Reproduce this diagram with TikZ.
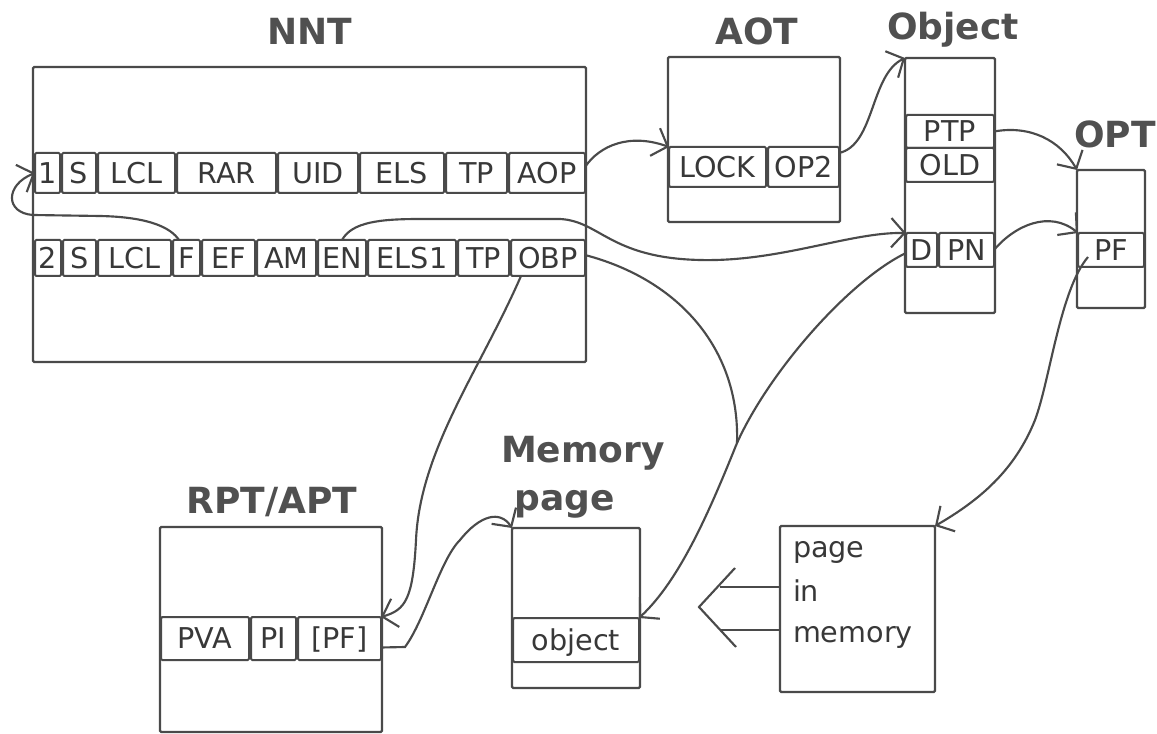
\documentclass[tikz,border=0pt]{standalone}
\usepackage{fontspec}
\setmainfont{DejaVu Sans}
\usetikzlibrary{arrows.meta,calc}
\definecolor{ink}{HTML}{4A4A4A}
\definecolor{txt}{HTML}{383838}
\definecolor{ttlc}{HTML}{505050}

% table frame: name, x1, x2, y1, y2 (pixel units)
\newcommand\tableframe[5]{\node[frame, minimum width={(#3-#2)*0.75pt}, minimum height={(#5-#4)*0.75pt}] (#1) at ({(#2+#3)/2},{(#4+#5)/2}) {};}
% one field of a record: name, x1, x2, y1, y2, text
\newcommand\cellat[6]{\node[cell, minimum width={(#3-#2)*0.75pt-1.5pt}, minimum height={(#5-#4)*0.75pt}] (#1) at ({(#2+#3)/2},{(#4+#5)/2}) {#6};}

\begin{document}
\begin{tikzpicture}[x=0.75pt,y=-0.75pt,
  every node/.style={inner sep=0pt, outer sep=0pt},
  frame/.style={draw=ink, line width=1.7pt, rounded corners=1pt},
  cell/.style={draw=ink, line width=1.5pt, rounded corners=1pt,
    font=\fontsize{21.5}{24}\selectfont, text=txt, text height=15.7pt, text depth=0pt},
  ttl/.style={font=\fontsize{27}{30}\selectfont\bfseries, text=ttlc, anchor=base},
  memtxt/.style={font=\fontsize{21.5}{24}\selectfont, text=txt, anchor=base west},
  link/.style={draw=ink, line width=1.6pt, -{Straight Barb[length=10pt,width=22pt,line width=1.6pt]}},
  plain/.style={draw=ink, line width=1.6pt},
]
\useasboundingbox (0,0) rectangle (1157,734);

% ---------- NNT ----------
\node[ttl] (tNNT) at (310,45) {NNT};
\tableframe{nnt}{33}{586}{67}{362}
\cellat{c11}{34}{61}{153}{193}{1}
\cellat{c1S}{61}{97}{153}{193}{S}
\cellat{c1LCL}{97}{176}{153}{193}{LCL}
\cellat{cRAR}{176}{277}{153}{193}{RAR}
\cellat{cUID}{277}{359}{153}{193}{UID}
\cellat{cELS}{359}{445}{153}{193}{ELS}
\cellat{c1TP}{445}{508}{153}{193}{TP}
\cellat{cAOP}{508}{586}{153}{193}{AOP}

\cellat{c22}{34}{62}{240}{276}{2}
\cellat{c2S}{62}{97}{240}{276}{S}
\cellat{c2LCL}{97}{172}{240}{276}{LCL}
\cellat{c2F}{172}{201}{240}{276}{F}
\cellat{cEF}{201}{256}{240}{276}{EF}
\cellat{cAM}{256}{317}{240}{276}{AM}
\cellat{cEN}{317}{367}{240}{276}{EN}
\cellat{cELS1}{367}{457}{240}{276}{ELS1}
\cellat{c2TP}{457}{510}{240}{276}{TP}
\cellat{cOBP}{510}{586}{240}{276}{OBP}

% ---------- AOT ----------
\node[ttl] (tAOT) at (757,45) {AOT};
\tableframe{aot}{668}{840}{57}{222}
\cellat{cLOCK}{668}{767}{147}{187}{LOCK}
\cellat{cOP2}{767}{840}{147}{187}{OP2}

% ---------- Object ----------
\node[ttl] (tObj) at (953,40) {Object};
\tableframe{obj}{905}{995}{58}{313}
\cellat{cPTP}{905}{995}{115}{148}{PTP}
\cellat{cOLD}{905}{995}{148}{182}{OLD}
\cellat{cD}{905}{938}{233}{267}{D}
\cellat{cPN}{938}{995}{233}{267}{PN}

% ---------- OPT ----------
\node[ttl] (tOPT) at (1115,148) {OPT};
\tableframe{opt}{1077}{1145}{170}{308}
\cellat{cPFo}{1077}{1145}{233}{267}{PF}

% ---------- RPT/APT ----------
\node[ttl] (tRPT) at (272,513) {RPT/APT};
\tableframe{rpt}{160}{382}{527}{732}
\cellat{cPVA}{160}{250}{617}{660}{PVA}
\cellat{cPI}{250}{297}{617}{660}{PI}
\cellat{cPFr}{297}{382}{617}{660}{[PF]}

% ---------- Memory page ----------
\node[ttl] (tMem) at (583,462) {Memory};
\node[ttl] (tPage) at (565,510) {page};
\tableframe{mp}{512}{640}{528}{688}
\cellat{cObjM}{512}{640}{618}{662}{object}

% ---------- page in memory ----------
\tableframe{pim}{780}{935}{526}{692}
\node[memtxt] (pimA) at (793,557) {page};
\node[memtxt] (pimB) at (793,601) {in};
\node[memtxt] (pimC) at (793,642) {memory};

% ---------- connectors ----------
% F of record 2 back to record 1
\draw[link] ($(c2F.north west)+(6,0)$) .. controls ($(c2F.north west)+(-2,-12)$) and (150,217) .. (100,216)
  -- (33,215) .. controls (5,213) and (5,185) .. (c11.west);
% AOP -> AOT entry
\draw[link] ($(cAOP.east)+(0,-6)$) .. controls (600,145) and (630,133) .. (cLOCK.north west);
% OP2 -> object header
\draw[link] ($(cOP2.north east)+(0,6)$) .. controls (875,145) and (870,75) .. (obj.north west);
% EN -> D
\draw[link] (cEN.north) .. controls (352,222) and (380,219) .. (420,219) -- (560,219)
  .. controls (600,221) and (610,258) .. (700,260) .. controls (780,262) and (850,232) .. (cD.north west);
% OBP -> [PF] of RPT/APT
\draw[link] ($(cOBP.south west)+(10,0)$) .. controls (480,370) and (420,450) .. (416,540)
  .. controls (413,600) and (405,610) .. (cPFr.north east);
% D -> object in the memory page
\draw[link] ($(cD.west)+(0,3)$) .. controls (850,280) and (770,370) .. (737,443) coordinate (merge)
  .. controls (710,510) and (680,580) .. (cObjM.north east);
% OBP joins the same line
\draw[plain] ($(cOBP.east)+(0,-3)$) .. controls (680,280) and (740,350) .. (merge);
% PTP -> OPT
\draw[link] (cPTP.east) .. controls (1030,125) and (1060,140) .. (opt.north west);
% PN -> PF of OPT
\draw[link] (cPN.east) .. controls (1015,225) and (1050,210) .. (cPFo.north west);
% PF of OPT -> page in memory
\draw[link] ($(cPFo.west)+(10,7)$) .. controls (1060,290) and (1050,380) .. (1035,420)
  .. controls (1015,470) and (980,500) .. (pim.north east);
% [PF] -> memory page
\draw[link] ($(cPFr.east)+(0,9)$) -- (405,647) .. controls (425,620) and (440,560) .. (460,540)
  .. controls (480,515) and (500,510) .. (mp.north west);
% hollow arrow: page in memory -> memory page
\draw[plain] ($(pim.west)+(0,-22)$) -- ++(-60,0);
\draw[plain] ($(pim.west)+(0,21)$) -- ++(-60,0);
\draw[plain] ($(pim.west)+(-45,-41)$) -- ($(pim.west)+(-81,-2)$) -- ($(pim.west)+(-44,38)$);
\end{tikzpicture}
\end{document}
